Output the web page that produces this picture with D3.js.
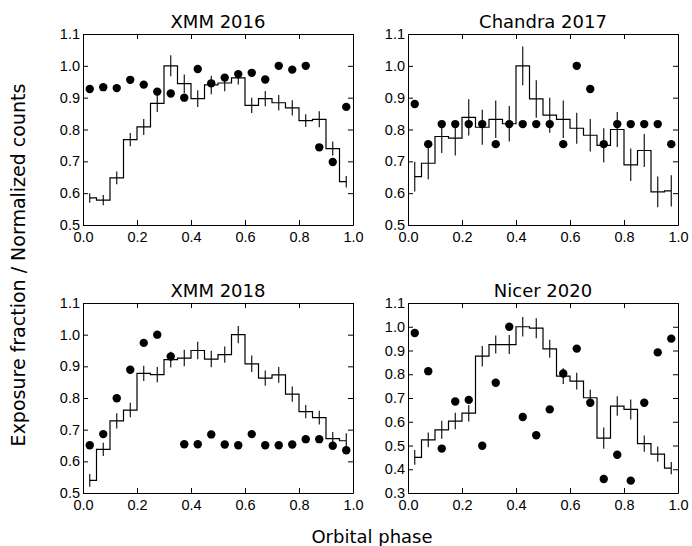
<!DOCTYPE html>
<html>
<head>
<meta charset="utf-8">
<script src="https://cdn.jsdelivr.net/npm/d3@7"></script>
<style>
  body { margin: 0; background: #fff; }
  svg { display: block; font-family: "DejaVu Sans", sans-serif; }
  .tick line { stroke: #000; }
  .domain { stroke: #000; }
</style>
</head>
<body>
<svg id="chart" width="692" height="546"></svg>
<script>
// phase bin centres (20 bins of 0.05)
const phaseBins = [0.025, 0.075, 0.125, 0.175, 0.225, 0.275, 0.325, 0.375, 0.425, 0.475,
                   0.525, 0.575, 0.625, 0.675, 0.725, 0.775, 0.825, 0.875, 0.925, 0.975];

const xTicks = [0.0, 0.2, 0.4, 0.6, 0.8, 1.0];
const yTicksA = [0.5, 0.6, 0.7, 0.8, 0.9, 1.0, 1.1];
const yTicksNicer = [0.3, 0.4, 0.5, 0.6, 0.7, 0.8, 0.9, 1.0, 1.1];

// XMM 2016
const xmm16Counts = [0.585, 0.578, 0.648, 0.768, 0.808, 0.882, 1.000, 0.944, 0.897, 0.940,
                     0.946, 0.962, 0.876, 0.897, 0.884, 0.868, 0.828, 0.832, 0.740, 0.636];
const xmm16Err    = [0.015, 0.016, 0.020, 0.021, 0.025, 0.027, 0.033, 0.029, 0.026, 0.029,
                     0.026, 0.021, 0.024, 0.024, 0.024, 0.024, 0.020, 0.025, 0.022, 0.018];
const xmm16Expo   = [0.927, 0.933, 0.930, 0.956, 0.941, 0.919, 0.913, 0.900, 0.990, 0.945,
                     0.963, 0.974, 0.978, 0.957, 1.000, 0.988, 1.000, 0.744, 0.698, 0.871];

// Chandra 2017
const cxo17Counts = [0.652, 0.694, 0.778, 0.773, 0.838, 0.807, 0.832, 0.818, 1.000, 0.896,
                     0.845, 0.832, 0.804, 0.782, 0.750, 0.800, 0.689, 0.734, 0.604, 0.607];
const cxo17Err    = [0.047, 0.050, 0.052, 0.055, 0.057, 0.055, 0.059, 0.056, 0.061, 0.059,
                     0.055, 0.059, 0.049, 0.051, 0.054, 0.055, 0.051, 0.052, 0.048, 0.049];
const cxo17Expo   = [0.880, 0.754, 0.817, 0.817, 0.817, 0.817, 0.754, 0.817, 0.817, 0.817,
                     0.817, 0.754, 1.000, 0.927, 0.754, 0.817, 0.817, 0.817, 0.817, 0.754];

// XMM 2018
const xmm18Counts = [0.540, 0.638, 0.728, 0.762, 0.878, 0.874, 0.921, 0.926, 0.950, 0.923,
                     0.937, 1.000, 0.908, 0.863, 0.873, 0.812, 0.757, 0.738, 0.672, 0.665];
const xmm18Err    = [0.020, 0.021, 0.024, 0.023, 0.024, 0.024, 0.025, 0.026, 0.028, 0.026,
                     0.026, 0.027, 0.026, 0.024, 0.025, 0.024, 0.021, 0.022, 0.021, 0.024];
const xmm18Expo   = [0.651, 0.686, 0.799, 0.889, 0.974, 1.000, 0.931, 0.654, 0.654, 0.685,
                     0.653, 0.651, 0.686, 0.651, 0.651, 0.653, 0.670, 0.670, 0.649, 0.635];

// Nicer 2020
const nicer20Counts = [0.450, 0.524, 0.566, 0.603, 0.636, 0.876, 0.925, 0.925, 1.000, 0.994,
                       0.907, 0.792, 0.771, 0.701, 0.531, 0.666, 0.652, 0.508, 0.464, 0.405];
const nicer20Err    = [0.031, 0.031, 0.038, 0.035, 0.035, 0.043, 0.038, 0.040, 0.041, 0.042,
                       0.038, 0.033, 0.035, 0.034, 0.045, 0.041, 0.042, 0.034, 0.032, 0.026];
const nicer20Expo   = [0.974, 0.813, 0.487, 0.685, 0.692, 0.499, 0.764, 1.000, 0.620, 0.543,
                       0.652, 0.803, 0.908, 0.680, 0.359, 0.461, 0.352, 0.680, 0.892, 0.950];

const svg = d3.select("#chart");

const panels = [
  { title: "XMM 2016",     x0: 83,  y0: 34,  w: 270, h: 191, yDomain: [0.5, 1.1], yTicks: yTicksA,
    counts: xmm16Counts, err: xmm16Err, expo: xmm16Expo },
  { title: "Chandra 2017", x0: 408, y0: 34,  w: 270, h: 191, yDomain: [0.5, 1.1], yTicks: yTicksA,
    counts: cxo17Counts, err: cxo17Err, expo: cxo17Expo },
  { title: "XMM 2018",     x0: 83,  y0: 303, w: 270, h: 190, yDomain: [0.5, 1.1], yTicks: yTicksA,
    counts: xmm18Counts, err: xmm18Err, expo: xmm18Expo },
  { title: "Nicer 2020",   x0: 408, y0: 303, w: 270, h: 190, yDomain: [0.3, 1.1], yTicks: yTicksNicer,
    counts: nicer20Counts, err: nicer20Err, expo: nicer20Expo }
];

const fmt = d3.format(".1f");

panels.forEach(p => {
  const g = svg.append("g").attr("transform", `translate(${p.x0},${p.y0})`);

  const x = d3.scaleLinear().domain([0, 1]).range([0, p.w]);
  const y = d3.scaleLinear().domain(p.yDomain).range([p.h, 0]);

  // step histogram (counts)
  const step = d3.line()
    .x((d, i) => x(phaseBins[i]))
    .y(d => y(d))
    .curve(d3.curveStep);

  g.append("path")
    .datum(p.counts)
    .attr("d", step)
    .attr("fill", "none")
    .attr("stroke", "#000")
    .attr("stroke-width", 1.2);

  // error bars
  g.selectAll(".err")
    .data(p.counts)
    .enter().append("line")
      .attr("class", "err")
      .attr("x1", (d, i) => x(phaseBins[i]))
      .attr("x2", (d, i) => x(phaseBins[i]))
      .attr("y1", (d, i) => y(d - p.err[i]))
      .attr("y2", (d, i) => y(d + p.err[i]))
      .attr("stroke", "#000")
      .attr("stroke-width", 1.1);

  // exposure fraction dots
  g.selectAll(".dot")
    .data(p.expo)
    .enter().append("circle")
      .attr("class", "dot")
      .attr("cx", (d, i) => x(phaseBins[i]))
      .attr("cy", d => y(d))
      .attr("r", 4.2)
      .attr("fill", "#000");

  // axes, ticks pointing inward
  g.append("g")
    .attr("transform", `translate(0,${p.h})`)
    .call(d3.axisBottom(x).tickValues(xTicks).tickFormat(fmt).tickSizeInner(-5).tickSizeOuter(0).tickPadding(7))
    .call(a => a.selectAll("text").style("font-size", "14.5px").attr("fill", "#000"));

  g.append("g")
    .call(d3.axisTop(x).tickValues(xTicks).tickFormat("").tickSizeInner(-5).tickSizeOuter(0));

  g.append("g")
    .call(d3.axisLeft(y).tickValues(p.yTicks).tickFormat(fmt).tickSizeInner(-5).tickSizeOuter(0).tickPadding(3))
    .call(a => a.selectAll("text").style("font-size", "14.5px").attr("fill", "#000"));

  g.append("g")
    .attr("transform", `translate(${p.w},0)`)
    .call(d3.axisRight(y).tickValues(p.yTicks).tickFormat("").tickSizeInner(-5).tickSizeOuter(0));

  // title
  g.append("text")
    .attr("x", p.w / 2)
    .attr("y", -6.5)
    .attr("text-anchor", "middle")
    .style("font-size", "18px")
    .text(p.title);
});

// shared axis labels
svg.append("text")
  .attr("x", 372)
  .attr("y", 543)
  .attr("text-anchor", "middle")
  .style("font-size", "18px")
  .text("Orbital phase");

svg.append("text")
  .attr("transform", "translate(25,265) rotate(-90)")
  .attr("text-anchor", "middle")
  .style("font-size", "19px")
  .text("Exposure fraction / Normalized counts");
</script>
</body>
</html>
